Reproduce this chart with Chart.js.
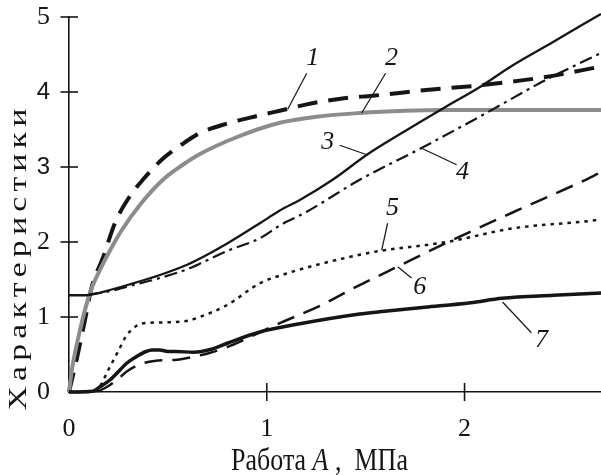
<!DOCTYPE html>
<html><head><meta charset="utf-8">
<script src="https://cdn.jsdelivr.net/npm/chart.js@4.4.1/dist/chart.umd.min.js"></script>
<style>html,body{margin:0;padding:0;background:#fff;}canvas{display:block;}</style>
</head><body>
<canvas id="c" width="601" height="475"></canvas>
<script>
// ---- tick labels & titles ----
const xTicks = [0, 1, 2];
const yTicks = [0, 1, 2, 3, 4, 5];
const xTitleParts = ['Работа ', 'A', ' ,  МПа'];
const yTitle = 'Характеристики';
const seriesNames = ['1', '2', '3', '4', '5', '6', '7'];

// ---- series values (x = work A, MPa; y = characteristic) ----
const x1 = [0, 0.04, 0.08, 0.115, 0.173, 0.232, 0.3, 0.38, 0.47, 0.57, 0.66, 0.8, 0.95, 1.066, 1.23, 1.4, 1.535, 1.82, 2.08, 2.41, 2.69];
const y1 = [0, 0.45, 0.95, 1.4, 1.8, 2.25, 2.58, 2.85, 3.1, 3.3, 3.45, 3.58, 3.68, 3.75, 3.85, 3.92, 3.95, 4.03, 4.09, 4.2, 4.34];

const x2 = [0, 0.015, 0.056, 0.106, 0.157, 0.21, 0.26, 0.36, 0.475, 0.57, 0.66, 0.85, 1.066, 1.25, 1.47, 1.7, 1.91, 2.3, 2.69];
const y2 = [0, 0.3, 0.83, 1.32, 1.63, 1.9, 2.13, 2.5, 2.83, 3.02, 3.17, 3.4, 3.59, 3.67, 3.72, 3.75, 3.76, 3.76, 3.76];

const x3 = [0, 0.08, 0.15, 0.207, 0.3, 0.46, 0.6, 0.677, 0.8, 0.965, 1.066, 1.167, 1.333, 1.51, 1.7, 1.91, 2.08, 2.24, 2.45, 2.65, 2.69];
const y3 = [1.29, 1.29, 1.32, 1.36, 1.43, 1.56, 1.7, 1.8, 1.98, 2.25, 2.42, 2.56, 2.83, 3.17, 3.48, 3.81, 4.07, 4.35, 4.67, 4.98, 5.04];

const x4 = [0.1, 0.2, 0.3, 0.46, 0.6, 0.677, 0.8, 0.965, 1.066, 1.2, 1.47, 1.78, 2.11, 2.41, 2.69];
const y4 = [1.3, 1.34, 1.41, 1.52, 1.64, 1.73, 1.88, 2.05, 2.22, 2.4, 2.83, 3.25, 3.72, 4.16, 4.52];

const x5 = [0, 0.12, 0.15, 0.2, 0.25, 0.29, 0.34, 0.39, 0.51, 0.6, 0.66, 0.8, 0.965, 1.1, 1.217, 1.47, 1.57, 1.91, 2.24, 2.63, 2.69];
const y5 = [0, 0, 0.05, 0.3, 0.55, 0.75, 0.88, 0.92, 0.93, 0.95, 1.0, 1.16, 1.45, 1.58, 1.67, 1.83, 1.88, 2.0, 2.18, 2.28, 2.3];

const x6 = [0, 0.12, 0.18, 0.26, 0.29, 0.37, 0.45, 0.545, 0.63, 0.71, 0.8, 0.88, 1.05, 1.27, 1.436, 1.66, 1.91, 2.24, 2.58, 2.69];
const y6 = [0, 0, 0.05, 0.2, 0.27, 0.38, 0.42, 0.43, 0.47, 0.52, 0.6, 0.69, 0.9, 1.15, 1.38, 1.67, 1.99, 2.39, 2.79, 2.93];

const x7 = [0, 0.12, 0.157, 0.207, 0.26, 0.29, 0.34, 0.39, 0.42, 0.46, 0.5, 0.54, 0.63, 0.72, 0.8, 0.965, 1.167, 1.47, 1.57, 1.8, 2.03, 2.19, 2.45, 2.69];
const y7 = [0, 0.01, 0.07, 0.16, 0.3, 0.38, 0.47, 0.54, 0.56, 0.56, 0.54, 0.54, 0.53, 0.57, 0.65, 0.8, 0.91, 1.04, 1.07, 1.13, 1.19, 1.25, 1.29, 1.32];

// ---- callout labels (data coordinates) ----
const callouts = [
  {text: '1', at: [1.232, 4.45], from: [1.202, 4.25], to: [1.106, 3.77]},
  {text: '2', at: [1.631, 4.45], from: [1.601, 4.25], to: [1.480, 3.72]},
  {text: '3', at: [1.308, 3.33], from: [1.369, 3.29], to: [1.510, 3.16]},
  {text: '4', at: [1.990, 2.93], from: [1.960, 3.03], to: [1.783, 3.25]},
  {text: '5', at: [1.636, 2.45], from: [1.611, 2.25], to: [1.581, 1.89]},
  {text: '6', at: [1.773, 1.40], from: [1.732, 1.52], to: [1.662, 1.67]},
  {text: '7', at: [2.389, 0.69], from: [2.338, 0.79], to: [2.192, 1.20]}
];

const pts = (xs, ys) => xs.map((x, i) => ({x: x, y: ys[i]}));
const INK = '#151515';
const SERIF = '"Liberation Serif", "Times New Roman", serif';
const SANS = '"Liberation Sans", Arial, sans-serif';

function ds(i, xs, ys, style) {
  return Object.assign({
    label: seriesNames[i],
    data: pts(xs, ys),
    borderColor: INK,
    backgroundColor: INK,
    pointRadius: 0,
    fill: false,
    cubicInterpolationMode: 'monotone',
    borderCapStyle: 'butt',
    borderJoinStyle: 'round',
    clip: false
  }, style);
}

const datasets = [
  ds(6, x7, y7, {borderWidth: 3.5}),
  ds(5, x6, y6, {borderWidth: 2.5, borderDash: [18, 10]}),
  ds(4, x5, y5, {borderWidth: 2.5, borderDash: [3.5, 5]}),
  ds(3, x4, y4, {borderWidth: 2.2, borderDash: [13, 5, 3, 5]}),
  ds(2, x3, y3, {borderWidth: 2.3}),
  ds(1, x2, y2, {borderWidth: 4, borderColor: '#8c8c8c', backgroundColor: '#8c8c8c'}),
  ds(0, x1, y1, {borderWidth: 4, borderDash: [20, 11]})
];

function line(ctx, a, b, c, d) { ctx.beginPath(); ctx.moveTo(a, b); ctx.lineTo(c, d); ctx.stroke(); }

const decor = {
  id: 'decor',
  afterDraw(chart) {
    const ctx = chart.ctx;
    const sx = chart.scales.x, sy = chart.scales.y;
    const ax = sx.getPixelForValue(0), ay = sy.getPixelForValue(0);
    ctx.save();
    ctx.strokeStyle = INK;
    ctx.lineWidth = 1.6;
    yTicks.forEach(v => { if (v === 0) return; const p = sy.getPixelForValue(v); line(ctx, ax - 8.5, p, ax + 9, p); });
    xTicks.forEach(v => { if (v === 0) return; const p = sx.getPixelForValue(v); line(ctx, p, ay - 9, p, ay + 9); });

    // callouts
    ctx.lineWidth = 1.2;
    ctx.fillStyle = INK;
    ctx.font = 'italic 26px ' + SERIF;
    ctx.textAlign = 'center';
    ctx.textBaseline = 'middle';
    callouts.forEach(c => {
      line(ctx, sx.getPixelForValue(c.from[0]), sy.getPixelForValue(c.from[1]),
                sx.getPixelForValue(c.to[0]), sy.getPixelForValue(c.to[1]));
      ctx.fillText(c.text, sx.getPixelForValue(c.at[0]), sy.getPixelForValue(c.at[1]));
    });

    // x-axis title (mixed upright / italic)
    ctx.save();
    ctx.translate(231, 470);
    ctx.scale(1, 1.22);
    ctx.textAlign = 'left';
    ctx.textBaseline = 'alphabetic';
    let cx = 0;
    xTitleParts.forEach((t, i) => {
      ctx.font = (i === 1 ? 'italic ' : '') + '26px ' + SERIF;
      ctx.fillText(t, cx, 0);
      cx += ctx.measureText(t).width;
    });
    ctx.restore();

    // y-axis title (rotated, spread along its length like the reference)
    ctx.save();
    ctx.font = '26px ' + SERIF;
    try { ctx.letterSpacing = '4px'; } catch (e) {}
    const w = ctx.measureText(yTitle).width;
    ctx.translate(26, 257);
    ctx.rotate(-Math.PI / 2);
    ctx.scale(307 / w, 1);
    ctx.textAlign = 'center';
    ctx.textBaseline = 'alphabetic';
    ctx.fillText(yTitle, 0, 0);
    ctx.restore();

    ctx.restore();
  }
};

new Chart(document.getElementById('c'), {
  type: 'line',
  data: {datasets: datasets},
  options: {
    responsive: false,
    devicePixelRatio: 1,
    animation: false,
    events: [],
    layout: {padding: {top: 17, right: 0, bottom: 0, left: 0}},
    plugins: {legend: {display: false}, tooltip: {enabled: false}, title: {display: false}},
    scales: {
      x: {
        type: 'linear', min: 0, max: 2.69,
        afterBuildTicks: s => { s.ticks = xTicks.map(v => ({value: v})); },
        afterFit: s => { s.height = 83; s.paddingLeft = 0; s.paddingRight = 0; },
        grid: {display: false, drawTicks: false},
        border: {display: true, color: INK, width: 1.6},
        ticks: {padding: 22, color: INK, maxRotation: 0, autoSkip: false, font: {family: SERIF, size: 26}}
      },
      y: {
        type: 'linear', min: 0, max: 5,
        afterBuildTicks: s => { s.ticks = yTicks.map(v => ({value: v})); },
        afterFit: s => { s.width = 69; s.paddingTop = 0; s.paddingBottom = 0; },
        grid: {display: false, drawTicks: false},
        border: {display: true, color: INK, width: 1.6},
        ticks: {
          padding: 19, color: INK, autoSkip: false,
          font: c => (c.tick && (c.tick.value === 3 || c.tick.value === 4))
            ? {family: SANS, size: 24} : {family: SERIF, size: 26}
        }
      }
    }
  },
  plugins: [decor]
});
</script>
</body></html>
